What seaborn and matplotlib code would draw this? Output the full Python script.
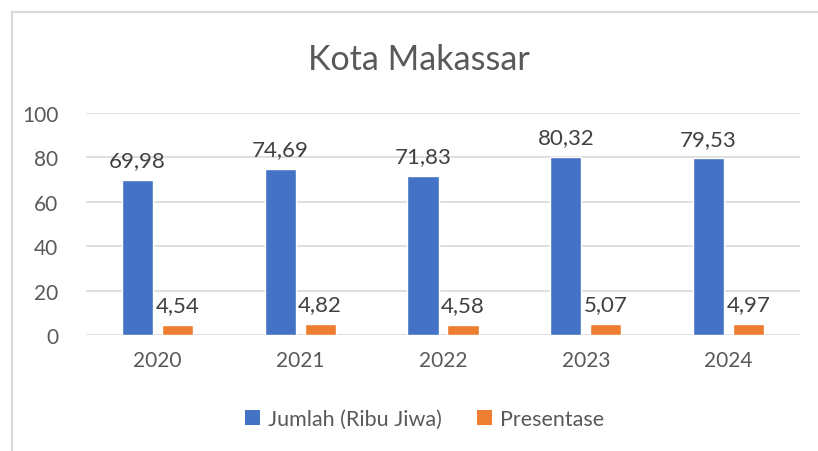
import matplotlib
matplotlib.use("Agg")
import matplotlib.pyplot as plt
import seaborn as sns
import pandas as pd
from matplotlib.patches import Rectangle, Patch

tahun = ["2020", "2021", "2022", "2023", "2024"]
jumlah = [69.98, 74.69, 71.83, 80.32, 79.53]
presentase = [4.54, 4.82, 4.58, 5.07, 4.97]
seri = ["Jumlah (Ribu Jiwa)", "Presentase"]
yticks = [0, 20, 40, 60, 80, 100]

BLUE = "#4472C4"
ORANGE = "#ED7D31"
TXT = "#595959"
GRID = "#D9D9D9"

df = pd.DataFrame({
    "Tahun": tahun * 2,
    "Nilai": jumlah + presentase,
    "Seri": [seri[0]] * len(tahun) + [seri[1]] * len(tahun),
})

sns.set_theme(style="white")
plt.rcParams["font.family"] = ["Lato", "DejaVu Sans"]

fig = plt.figure(figsize=(8.18, 4.52), dpi=100)
ax = fig.add_axes([86 / 818, 1 - 336 / 452, (800 - 86) / 818, (336 - 114) / 452])

sns.barplot(data=df, x="Tahun", y="Nilai", hue="Seri", palette=[BLUE, ORANGE],
            width=0.56, gap=0.22, ax=ax, saturation=1, legend=False)

for cont in ax.containers:
    ax.bar_label(cont, labels=[f"{v:.2f}".replace(".", ",") for v in cont.datavalues],
                 padding=7, fontsize=16, color="#404040")

ax.set_ylim(0, 100)
ax.set_xlim(-0.5, 4.5)
ax.set_yticks(yticks)
ax.set_yticklabels([str(v) for v in yticks])
ax.grid(axis="y", color=GRID, linewidth=1.2)
ax.set_axisbelow(True)
for s in ax.spines.values():
    s.set_visible(False)
ax.tick_params(axis="both", length=0, labelsize=15, colors=TXT)
ax.tick_params(axis="y", pad=20)
ax.tick_params(axis="x", pad=11)
ax.set_xlabel("")
ax.set_ylabel("")

fig.text(0.512, 1 - 60 / 452, "Kota Makassar", ha="center", va="center",
         fontsize=24.5, color=TXT)

handles = [Patch(facecolor=BLUE, edgecolor="none"), Patch(facecolor=ORANGE, edgecolor="none")]
fig.legend(handles, seri, loc="center", bbox_to_anchor=(0.519, 1 - 420 / 452), ncol=2,
           frameon=False, fontsize=15.5, labelcolor=TXT, handlelength=0.7,
           handleheight=0.7, handletextpad=0.4, columnspacing=1.6)

fig.patches.append(Rectangle((12 / 818, -0.2), 1.2, 1.2 - 13 / 452 + 0.0,
                             transform=fig.transFigure, fill=False,
                             edgecolor="#D9D9D9", linewidth=1.5, zorder=-1))

fig.savefig("out.png", dpi=100)
